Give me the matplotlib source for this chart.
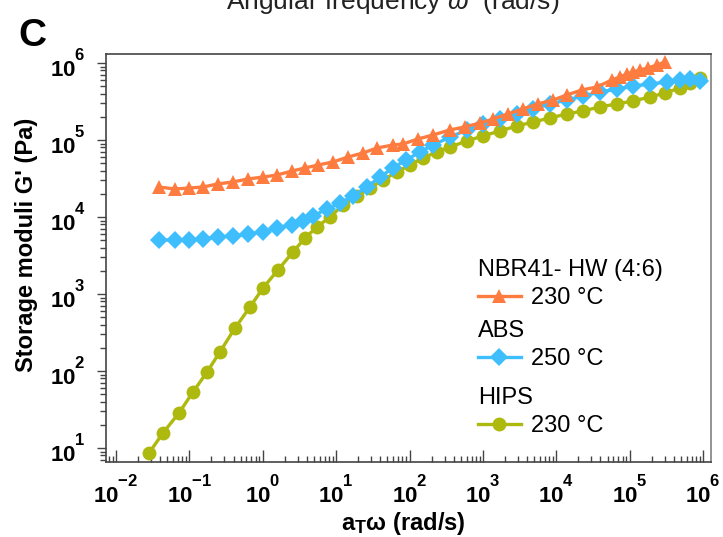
import numpy as np
import matplotlib
matplotlib.use("Agg")
import matplotlib.pyplot as plt
import matplotlib._mathtext as mathtext_impl
from matplotlib.ticker import LogLocator, FuncFormatter, NullFormatter

plt.rcParams["font.family"] = ["Liberation Sans", "DejaVu Sans"]
plt.rcParams["mathtext.fontset"] = "custom"
plt.rcParams["mathtext.rm"] = "Liberation Sans"
plt.rcParams["mathtext.it"] = "Liberation Sans:italic"
plt.rcParams["mathtext.bf"] = "Liberation Sans:bold"
# exponents sit higher and a bit larger on the decade labels
mathtext_impl.FontConstantsBase.sup1 = 1.4
mathtext_impl.SHRINK_FACTOR = 0.75

# master curves, shifted frequency aT*w (rad/s) vs G' (Pa)
nbr_freq = [0.0385, 0.0637, 0.0989, 0.153, 0.245, 0.393, 0.628, 1.01, 1.56, 2.50,
            3.76, 5.65, 9.04, 14.5, 23.2, 36.0, 59.4, 81.3, 130, 208,
            355, 569, 910, 1370, 2190, 3510, 5610, 8990, 13900, 22300,
            35700, 57100, 73500, 91600, 111000, 138000, 177000, 235000, 302000]
nbr_modulus = [24500, 23100, 23800, 24500, 26900, 28500, 31200, 33000, 35100, 39500,
               43300, 47300, 51800, 60100, 67800, 78700, 86100, 88700, 103000, 116000,
               135000, 148000, 166000, 187000, 218000, 253000, 294000, 330000, 384000, 446000,
               488000, 601000, 658000, 719000, 764000, 811000, 861000, 942000, 1030000]

abs_freq = [0.0385, 0.0637, 0.0989, 0.153, 0.245, 0.393, 0.628, 1.01, 1.56, 2.50,
            3.53, 4.83, 7.50, 11.3, 16.9, 26.3, 39.5, 59.4, 89.3, 139,
            208, 355, 605, 1000, 1710, 2900, 4800, 8180, 13900, 23000,
            39300, 67000, 111000, 188000, 321000, 483000, 661000, 904000]
abs_modulus = [5020, 5020, 5020, 5180, 5500, 5660, 6010, 6380, 7190, 7870,
               8870, 10300, 12700, 15200, 18700, 24500, 33000, 43300, 55000, 69800,
               86100, 109000, 135000, 161000, 187000, 218000, 253000, 294000, 330000, 372000,
               420000, 459000, 502000, 533000, 566000, 601000, 619000, 583000]

hips_freq = [0.0282, 0.0437, 0.0721, 0.112, 0.174, 0.261, 0.418, 0.670, 1.01, 1.61,
             2.58, 3.76, 5.47, 8.24, 12.4, 19.2, 28.8, 43.4, 67.3, 101,
             152, 236, 355, 605, 1000, 1710, 2900, 4800, 8180, 13900,
             23000, 39300, 67000, 111000, 188000, 302000, 483000, 661000, 904000]
hips_modulus = [8.61, 15.7, 28.5, 53.3, 97.0, 177, 361, 678, 1200, 2050,
                3510, 5330, 7410, 10000, 14300, 18700, 23800, 30300, 38400, 47300,
                58300, 69800, 81100, 97000, 113000, 131000, 152000, 171000, 193000, 218000,
                238000, 269000, 294000, 321000, 361000, 407000, 473000, 550000, 638000]

series_names = ["NBR41- HW (4:6)", "ABS", "HIPS"]
series_temps = ["230 °C", "250 °C", "230 °C"]

fig = plt.figure(figsize=(7.23, 5.37), dpi=100)
ax = fig.add_axes([0.1466, 0.1397, 0.8368, 0.7598])

line_hips, = ax.plot(hips_freq, hips_modulus, "-o", color="#AEB90F",
                     ms=10, lw=2.4, mew=0)
line_abs, = ax.plot(abs_freq, abs_modulus, "-D", color="#3EBEFC",
                    ms=9, lw=2.4, mew=0)
line_nbr, = ax.plot(nbr_freq, nbr_modulus, "-^", color="#FF7C40",
                    ms=10.5, lw=2.4, mew=0)

ax.set_xscale("log")
ax.set_yscale("log")
ax.set_xlim(7.3e-3, 1.285e6)
ax.set_ylim(6.58, 1.31e6)

decade_fmt = FuncFormatter(lambda v, pos: r"$\mathbf{10^{%d}}$" % round(np.log10(v)))
ax.set_xticks([1e-2, 1e-1, 1e0, 1e1, 1e2, 1e3, 1e4, 1e5, 1e6])
ax.set_yticks([1e1, 1e2, 1e3, 1e4, 1e5, 1e6])
for axis in (ax.xaxis, ax.yaxis):
    axis.set_minor_locator(LogLocator(base=10, subs=np.arange(2, 10), numticks=100))
    axis.set_major_formatter(decade_fmt)
    axis.set_minor_formatter(NullFormatter())

ax.tick_params(axis="x", which="major", direction="in", length=8.5, width=1,
               pad=9, labelsize=16, color="#444444")
ax.tick_params(axis="x", which="minor", direction="in", length=4.3, width=1,
               color="#444444")
ax.tick_params(axis="y", which="major", direction="out", length=6.5, width=1,
               pad=8, labelsize=16, color="#444444")
ax.tick_params(axis="y", which="minor", direction="out", length=4.3, width=1,
               color="#444444")

for side in ["left", "bottom", "top"]:
    ax.spines[side].set_color("#444444")
    ax.spines[side].set_linewidth(1.2)
ax.spines["right"].set_color("#808080")
ax.spines["right"].set_linewidth(1.2)

ax.set_xlabel(r"$\mathbf{a_{T}ω\ (rad/s)}$", fontsize=17)
ax.xaxis.set_label_coords(0.491, -0.117)
ax.set_ylabel("Storage moduli G' (Pa)", fontsize=17, fontweight="bold")
ax.yaxis.set_label_coords(-0.112, 0.532)

# one small legend per material, header line above the entry
handles = [line_nbr, line_abs, line_hips]
anchors = [0.497, 0.348, 0.184]
for i, (h, name, temp, y) in enumerate(zip(handles, series_names, series_temps, anchors)):
    leg = ax.legend([h], [temp], title=name, loc="upper left",
                    bbox_to_anchor=(0.615, y), frameon=False, fontsize=17,
                    title_fontsize=17, alignment="left", borderpad=0,
                    borderaxespad=0, labelspacing=0.25, handlelength=1.8,
                    handletextpad=0.45)
    if i < len(handles) - 1:
        ax.add_artist(leg)

fig.text(393 / 723, 1 - 9 / 537, r"Angular frequency $\omega$  (rad/s)",
         ha="center", va="baseline", fontsize=19, color="#222222")
fig.text(18 / 723, 1 - 46 / 537, "C", fontsize=28, fontweight="bold")

fig.savefig("out.png", dpi=100)
